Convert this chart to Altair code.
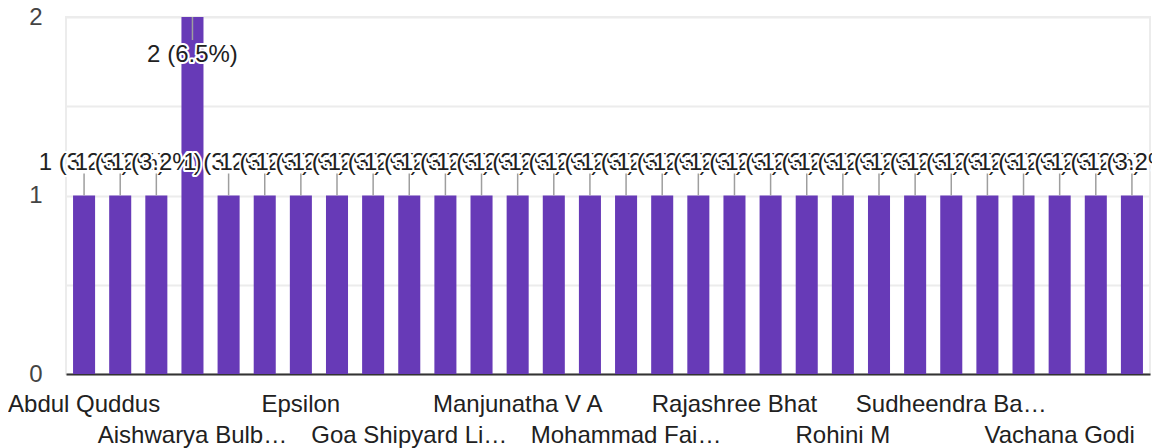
import json
import altair as alt
import pandas as pd

# Respondent names (alphabetical, as on the x axis) and their response counts
names = [
    "Abdul Quddus", "Abhishek K", "Aditya Rao", "Aishwarya Bulb…", "Anil Kumar", "Deepak S",
    "Epsilon", "Ganesh P", "Girish N", "Goa Shipyard Li…", "Karthik R", "Mahesh B",
    "Manjunatha V A", "Meera Nair", "Mithun R", "Mohammad Fai…", "Naveen K", "Prakash H",
    "Rajashree Bhat", "Ramesh G", "Ravi Shankar", "Rohini M", "Sandeep J", "Shreya P",
    "Sudheendra Ba…", "Suresh T", "Usha R", "Vachana Godi", "Vinay M", "Yashwant S",
]
counts = [1, 1, 1, 2, 1, 1, 1, 1, 1, 1, 1, 1, 1, 1, 1, 1, 1, 1, 1, 1, 1, 1, 1, 1, 1, 1, 1, 1, 1, 1]

# Tick labels that are visible (upper row / lower row)
labels_row1 = ["Abdul Quddus", "Epsilon", "Manjunatha V A", "Rajashree Bhat", "Sudheendra Ba…"]
labels_row2 = ["Aishwarya Bulb…", "Goa Shipyard Li…", "Mohammad Fai…", "Rohini M", "Vachana Godi"]
y_ticks = [0, 0.5, 1, 1.5, 2]

df = pd.DataFrame({"name": names, "count": counts})

FONT = "Liberation Sans"
PURPLE = "#673ab7"
TEXT = "#212121"

label_expr = (
    f"indexof({json.dumps(labels_row1)}, datum.value) >= 0 ? datum.value : "
    f"(indexof({json.dumps(labels_row2)}, datum.value) >= 0 ? ['', datum.value] : '')"
)

x_enc = alt.X(
    "name:N",
    sort=names,
    scale=alt.Scale(paddingInner=0.39, paddingOuter=0.195),
    axis=alt.Axis(
        title=None, ticks=False, tickSize=0, labelAngle=0, labelExpr=label_expr,
        labelOverlap=False, labelBound=False, labelPadding=37.7, labelBaseline="alphabetic",
        labelLineHeight=31, labelFontSize=24, labelFont=FONT, labelColor=TEXT,
        labelLimit=400, domainColor="#333333", domainWidth=2, grid=False,
    ),
)
y_scale = alt.Scale(domain=[0, 2], nice=False)

base = alt.Chart(df).transform_joinaggregate(
    total="sum(count)"
).transform_calculate(
    label="datum.count + ' (' + format(datum.count / datum.total * 100, '.1f') + '%)'"
)

bars = base.mark_bar(color=PURPLE).encode(
    x=x_enc,
    y=alt.Y(
        "count:Q", scale=y_scale,
        axis=alt.Axis(
            title=None, values=y_ticks, ticks=False, domain=False,
            labelExpr="datum.value % 1 === 0 ? format(datum.value, 'd') : ''",
            labelFontSize=24, labelFont=FONT, labelColor="#444444", labelPadding=24,
            labelBound=False, gridColor="#ececec", gridWidth=2,
        ),
    ),
)

layers = [bars]
maxc = max(counts)
for name, c in zip(names, counts):
    is_top = c == maxc
    sub = base.transform_filter(alt.FieldEqualPredicate(field="name", equal=name))
    rule = sub.mark_rule(color="#9e9e9e", strokeWidth=1.5,
                         y2Offset=23 if is_top else -22).encode(
        x=alt.X("name:N", sort=names),
        y=alt.Y("count:Q", scale=y_scale),
        y2="count:Q",
    )
    dy = 45 if is_top else -25.5
    halo = sub.mark_text(font=FONT, fontSize=24, fill="white", stroke="white",
                         strokeWidth=4, strokeJoin="round", baseline="alphabetic",
                         dy=dy).encode(
        x=alt.X("name:N", sort=names),
        y=alt.Y("count:Q", scale=y_scale),
        text="label:N",
    )
    txt = sub.mark_text(font=FONT, fontSize=24, color=TEXT, baseline="alphabetic",
                        dy=dy).encode(
        x=alt.X("name:N", sort=names),
        y=alt.Y("count:Q", scale=y_scale),
        text="label:N",
    )
    layers += [rule, halo, txt]

chart = alt.layer(*layers).properties(
    width=1084,
    height=357,
    autosize=alt.AutoSizeParams(type="none"),
    padding={"left": 58, "top": 9, "right": 2, "bottom": 74},
).configure_view(stroke="#ececec", strokeWidth=2)

chart.save("out.html", embed_options={"renderer": "svg", "actions": False})
